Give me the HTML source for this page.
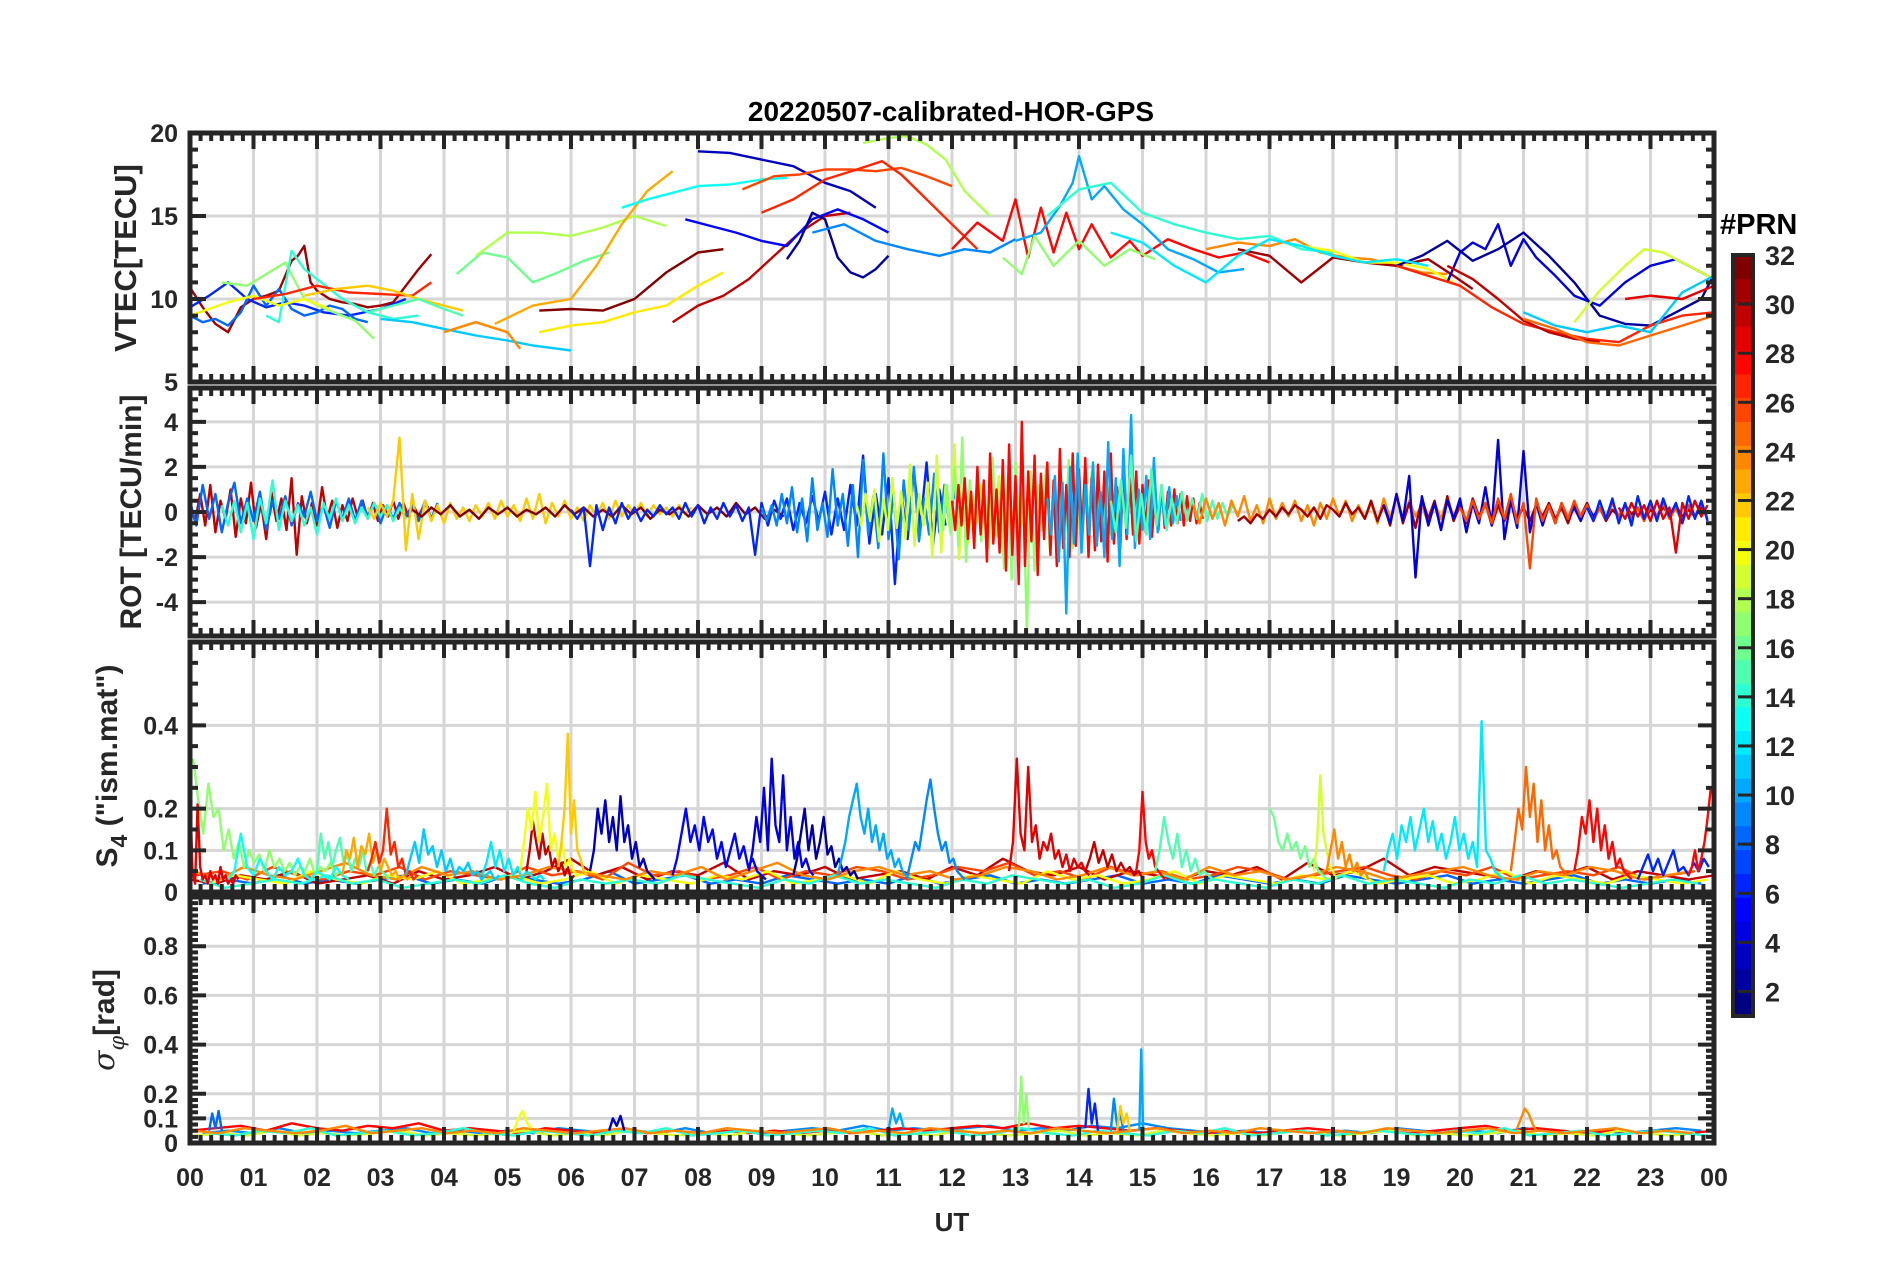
<!DOCTYPE html>
<html><head><meta charset="utf-8"><title>20220507-calibrated-HOR-GPS</title>
<style>
html,body{margin:0;padding:0;background:#fff;}
svg{display:block;font-family:"Liberation Sans",Arial,sans-serif;font-weight:bold;}
</style></head>
<body>
<svg id="chart" width="1902" height="1272" viewBox="0 0 1902 1272" xmlns="http://www.w3.org/2000/svg">
<text x="951" y="121" text-anchor="middle" font-size="28" fill="#000">20220507-calibrated-HOR-GPS</text>
<g id="grids"></g>
<g id="series"></g>
<g id="frames"></g>
<g id="labels"></g>
<text x="952" y="1231" text-anchor="middle" font-size="26" fill="#262626">UT</text>
<text transform="translate(136,258) rotate(-90)" text-anchor="middle" font-size="31" fill="#262626">VTEC[TECU]</text>
<text transform="translate(141,512) rotate(-90)" text-anchor="middle" font-size="30" fill="#262626">ROT [TECU/min]</text>
<text transform="translate(117,766) rotate(-90)" text-anchor="middle" font-size="30" fill="#262626">S<tspan font-size="23" dy="10">4</tspan><tspan dy="-10"> ("ism.mat")</tspan></text>
<text transform="translate(114,1020) rotate(-90)" text-anchor="middle" font-size="30" fill="#262626"><tspan font-family="'DejaVu Serif',serif" font-style="italic" font-weight="normal">σ</tspan><tspan font-size="21" dy="10" font-family="'DejaVu Serif',serif" font-style="italic" font-weight="normal">φ</tspan><tspan dy="-10">[rad]</tspan></text>
<g id="colorbar"></g>
<text x="1720" y="234" font-size="29" fill="#000">#PRN</text>
</svg>
<script>
// ---------- data ----------
const hourTicks = ["00","01","02","03","04","05","06","07","08","09","10","11","12","13","14","15","16","17","18","19","20","21","22","23","00"];
const vtecTickValues = [5,10,15,20];
const rotTickValues = [-4,-2,0,2,4];
const s4TickValues = [0,0.1,0.2,0.4];
const sigTickValues = [0,0.1,0.2,0.4,0.6,0.8];
const cbTickValues = [2,4,6,8,10,12,14,16,18,20,22,24,26,28,30,32];

const vtecPrn = [31,6,8,17,14,20,27,22,11,15,16,18,23,21,24,13,30,32,3,26,27,18,5,2,9,28,10,14,17,24,31,20,4,2,27,30,19,11,25,29,12];
const vtecTimes = [
[0,0.2,0.4,0.6,0.8,1.0,1.2,1.4,1.6,1.7,1.8,1.9,2.0,2.2,2.4,2.6,2.8,3.0,3.2,3.4,3.6,3.8],
[0,0.3,0.6,0.9,1.2,1.5,1.8,2.1,2.5,3.0,3.4],
[0,0.2,0.4,0.6,0.8,1.0,1.2,1.4,1.6,1.8,2.0,2.2,2.4,2.6,2.8],
[0.5,0.9,1.2,1.5,1.8,2.2,2.6,2.9],
[1.2,1.4,1.6,1.8,2.0,2.4,2.8,3.2,3.6],
[0,0.6,1.0,1.4,1.8,2.2],
[1.0,1.5,2.0,2.5,3.0,3.5,3.8],
[1.8,2.3,2.8,3.2,3.6,4.0,4.3],
[3.0,3.5,4.0,4.5,5.0,5.4,5.8,6.0],
[2.8,3.2,3.6,4.0,4.3],
[4.2,4.6,5.0,5.4,5.8,6.2,6.6],
[4.5,5.0,5.5,6.0,6.5,7.0,7.5],
[4.8,5.4,6.0,6.4,6.8,7.2,7.6],
[5.5,6.0,6.5,7.0,7.5,8.0,8.4],
[4.0,4.5,5.0,5.2],
[6.8,7.2,7.6,8.0,8.5,9.0,9.4],
[7.6,8.0,8.4,8.8,9.2,9.6,10.0,10.4],
[5.5,6.0,6.5,7.0,7.5,8.0,8.4],
[8.0,8.5,9.0,9.5,10.0,10.4,10.8],
[8.7,9.2,9.6,10.0,10.4,10.8,11.2,11.6,12.0],
[9.0,9.5,10.0,10.5,10.9,11.2,11.6,12.0,12.4],
[10.6,11.0,11.3,11.6,11.9,12.2,12.6],
[7.8,8.2,8.6,9.0,9.4,9.8,10.2,10.6,11.0],
[9.4,9.6,9.8,10.0,10.2,10.4,10.6,10.8,11.0],
[9.8,10.3,10.8,11.3,11.8,12.2,12.6,13.0],
[12.0,12.4,12.8,13.0,13.2,13.4,13.6,13.8,14.0,14.2,14.5,14.8,15.0,15.4,15.8,16.2,16.6,17.0],
[13.0,13.4,13.7,13.9,14.0,14.2,14.4,14.7,15.0,15.4,15.8,16.2,16.6],
[13.5,14.0,14.5,15.0,15.5,16.0,16.5,17.0,17.5,18.0],
[12.8,13.1,13.3,13.6,14.0,14.4,14.8,15.2],
[16.0,16.5,17.0,17.4,17.8,18.2,18.6,19.0,19.4,19.8],
[16.5,17.0,17.5,18.0,18.5,19.0,19.5,19.9,20.2],
[17.5,18.0,18.5,19.0,19.5,19.9],
[19.8,20.0,20.2,20.4,20.6,20.8,21.0,21.2,21.5,21.8,22.2,22.6,23.0,23.4,23.8,24.0],
[19.0,19.4,19.8,20.2,20.6,21.0,21.4,21.8,22.2,22.6,23.0,23.4,23.8,24.0],
[19.0,19.5,20.0,20.5,21.0,21.5,22.0,22.5,23.0,23.5,24.0],
[19.8,20.2,20.6,21.0,21.4,21.8,22.2],
[21.8,22.2,22.6,22.9,23.2,23.6,24.0],
[21.0,21.5,22.0,22.5,23.0,23.5,24.0],
[21.0,21.5,22.0,22.5,23.0,23.5,24.0],
[22.6,23.0,23.5,24.0],
[14.5,15.0,15.5,16.0,16.5,17.0,17.5,18.0,18.5,19.0,19.5]
];
const vtecValues = [
[10.7,9.5,8.5,8.0,9.5,10.0,10.2,10.5,12.3,12.6,13.2,11.0,10.5,10.0,9.8,9.7,9.5,9.6,9.8,10.8,11.8,12.7],
[9.5,10.2,11.0,10.0,9.5,9.8,9.6,9.2,9.0,9.4,10.0],
[9.0,8.6,8.8,8.4,9.2,10.8,9.6,10.6,9.4,9.0,9.2,9.6,9.4,8.8,8.6],
[11.0,10.8,11.5,12.2,10.0,9.3,8.7,7.6],
[9.0,8.6,12.9,11.8,11.2,10.0,9.2,8.8,9.0],
[9.0,9.8,10.2,9.6,10.0,9.4],
[10.0,10.3,10.8,10.4,10.3,10.2,11.0],
[10.2,10.6,10.8,10.5,10.0,9.6,9.3],
[8.8,8.6,8.2,7.8,7.5,7.2,7.0,6.9],
[9.2,9.6,10.0,9.4,9.0],
[11.5,12.8,12.5,11.0,11.6,12.3,12.8],
[12.6,14.0,14.0,13.8,14.3,15.0,14.4],
[8.5,9.6,10.0,12.0,14.5,16.5,17.7],
[8.0,8.4,8.6,9.2,9.6,10.8,11.6],
[8.0,8.6,8.0,7.0],
[15.5,16.0,16.4,16.8,16.9,17.2,17.3],
[8.6,9.6,10.2,11.2,12.6,14.0,15.0,15.2],
[9.3,9.4,9.3,10.0,11.6,12.8,13.0],
[18.9,18.8,18.4,18.0,17.0,16.5,15.5],
[16.6,17.4,17.5,17.8,17.8,17.7,17.9,17.4,16.8],
[15.2,16.0,17.2,17.8,18.3,17.5,16.0,14.5,13.0],
[19.4,19.7,19.8,19.3,18.4,16.5,15.0],
[14.8,14.4,14.0,13.5,13.2,14.8,15.4,14.8,14.0],
[12.4,13.5,15.2,14.8,12.5,11.6,11.3,11.8,12.6],
[14.0,14.5,13.5,13.0,12.6,13.0,12.8,13.6],
[13.0,14.6,13.5,16.0,12.5,15.5,12.8,15.2,13.0,14.5,12.5,13.5,12.6,13.6,13.0,12.5,12.8,12.2],
[13.5,14.0,15.6,17.0,18.6,16.0,16.8,15.4,14.5,13.0,12.4,11.6,11.8],
[15.0,16.6,17.0,15.2,14.5,14.0,13.6,13.8,13.0,12.8],
[12.5,11.5,13.8,12.0,13.5,12.0,13.0,12.4],
[13.0,13.4,13.2,13.6,12.8,12.5,12.4,12.0,11.6,11.5],
[13.0,12.6,11.0,12.5,12.2,12.0,12.4,11.4,10.6],
[13.2,12.9,12.2,12.2,11.8,11.0],
[11.0,12.8,13.4,13.0,14.5,12.0,13.6,12.5,11.4,10.2,9.6,11.0,12.0,12.4,11.6,11.2],
[12.0,12.6,13.5,12.3,13.0,14.0,12.6,11.0,9.0,8.5,8.4,9.2,10.0,11.5],
[12.0,11.4,10.8,9.5,8.5,8.0,7.6,7.4,8.4,9.0,9.2],
[12.0,11.2,10.0,8.7,8.0,7.6,7.4],
[8.6,10.5,12.0,13.0,12.8,12.0,11.2],
[9.2,8.4,8.0,8.4,8.0,10.4,11.4],
[8.8,8.2,7.4,7.2,7.8,8.4,9.0],
[10.0,10.2,10.0,10.8],
[14.0,13.4,12.0,11.0,12.6,13.6,13.2,12.6,12.2,12.4,12.0]
];

const rotPrn = [30,8,14,22,32,6,9,19,17,28,10,15,24,31,4,26,6,29];
const rotStart = [0,0,0.5,2.8,3.5,6.0,9.0,10.5,11.8,12.0,13.5,14.5,15.8,16.5,18.8,20.0,22.0,22.5];
const rotStep = [0.08,0.1,0.1,0.1,0.15,0.1,0.08,0.07,0.06,0.05,0.06,0.08,0.1,0.1,0.1,0.1,0.1,0.1];
const rotValues = [
[0.3,-0.4,0.8,-0.6,1.2,-0.9,0.5,-0.3,1.0,-1.1,0.6,-0.5,1.3,-0.7,0.4,-1.2,0.9,-0.4,0.6,-0.8,1.5,-1.9,0.7,-0.5,0.4,-0.6,1.1,-0.3,0.5,-0.7,0.3,-0.4,0.6,-0.2,0.5,-0.3,0.4,-0.4,0.3,-0.2,0.5,-0.3,0.4,-0.2,0.3,-0.2,0.3,0.2],
[0.5,-0.6,1.2,-0.3,0.8,-0.9,0.4,1.3,-0.5,0.6,-0.4,0.9,-0.8,0.5,-0.3,0.7,-0.6,0.4,-0.2,0.9,-0.4,0.3,-0.7,0.5,-0.3,0.6,-0.4,0.5,-0.2,0.4,-0.5,0.3,-0.3,0.4,-0.2,0.3,-0.4,0.5,-0.3,0.4],
[0.3,-0.6,0.5,-0.9,0.4,-1.2,0.6,-0.5,1.4,-0.8,0.5,-0.4,0.3,-0.6,0.2,-1.0,0.4,-0.3,0.6,-0.4,0.3,-0.5,0.2,-0.3,0.4,-0.2,0.3,-0.4,0.2,-0.3],
[0.2,-0.3,0.4,-0.2,0.5,3.3,-1.7,0.8,-1.2,0.5,-0.4,0.3,-0.5,0.4,-0.3,0.2,-0.4,0.3,-0.2,0.4,-0.3,0.5,-0.2,0.3,-0.4,0.6,-0.3,0.8,-0.5,0.4,-0.2,0.5,-0.3,0.2,-0.4,0.3,-0.2,0.4,-0.3,0.5,-0.2,0.3,-0.1,0.4,-0.2,0.3,-0.1,0.2,-0.2,0.3,-0.1,0.2],
[0.1,-0.2,0.2,-0.1,0.3,-0.2,0.1,-0.3,0.2,-0.1,0.2,-0.2,0.1,-0.1,0.2,-0.2,0.3,-0.1,0.2,-0.2,0.1,-0.2,0.3,-0.1,0.2,-0.3,0.1,-0.1,0.2,-0.2,0.3,-0.1,0.2,-0.2,0.4,-0.1,0.2,-0.3,0.1,-0.2],
[0.1,-0.3,0.2,-2.4,0.3,-0.8,0.2,-0.5,0.4,-0.3,0.2,-0.4,0.1,-0.2,0.3,-0.1,0.2,-0.3,0.4,-0.2,0.3,-0.5,0.2,-0.3,0.4,-0.2,0.3,-0.4,0.2,-1.9,0.4,-0.6,0.5,-0.3,0.6,-0.8,0.4,-0.5,0.7,-0.4,0.9,-1.0,0.6,-0.8,1.2,-0.6,2.5,-1.4,0.8,-1.0,1.5,-3.2,0.9,-1.2,1.8,-0.7,2.2,-1.5,1.0,-0.6],
[0.2,-0.4,0.3,-0.6,0.8,-0.5,1.1,-0.9,0.6,-1.3,1.5,-0.8,0.4,-1.1,1.9,-0.6,0.8,-1.5,1.2,-2.0,2.3,-1.0,0.7,-1.6,2.6,-1.2,0.9,-2.1,1.4,-0.8,2.0,-1.3,0.6,-1.0,1.7,-0.9,1.2,-0.6,1.0,-0.4],
[0.3,-0.6,0.8,-0.4,1.0,-1.3,0.6,-0.8,1.5,-0.7,0.9,-1.2,2.1,-1.5,0.8,-0.6,1.3,-2.0,2.5,-1.8,1.2,-0.9,3.0,-2.1,1.0,-1.4,0.7,-0.5,1.2,-0.8,0.9,-0.6,1.6,-1.1,0.7,-0.4,0.9,-0.6,0.5,-0.3],
[0.4,-0.8,1.2,-1.0,2.0,-1.5,3.3,-2.2,1.4,-0.9,1.8,-1.3,0.7,-1.6,2.4,-1.1,0.9,-2.5,1.6,-3.0,2.2,-1.4,1.0,-5.3,1.8,-2.6,1.2,-0.8,2.0,-1.7,1.1,-0.9,1.5,-1.2,2.3,-1.6,0.8,-1.0,1.3,-0.7,1.8,-1.4,0.9,-0.6,1.2,-1.0,0.7,-0.5,0.9,-0.7,0.6,-0.4,0.5,-0.3,0.4],
[0.5,-0.8,1.2,-0.6,1.5,-1.2,0.9,-1.6,2.0,-1.0,1.4,-2.2,2.6,-1.4,1.0,-1.8,2.3,-2.6,3.0,-1.9,1.6,-3.2,4.0,-2.4,1.8,-1.3,2.5,-2.8,1.7,-1.2,2.2,-1.9,1.4,-2.4,2.8,-1.6,1.2,-2.0,2.6,-1.5,1.9,-1.1,2.4,-2.0,1.5,-1.7,2.1,-1.3,1.8,-2.2,2.6,-1.4,1.1,-1.6,2.0,-1.2,1.5,-1.0,1.8,-1.4,1.2,-0.9,1.4,-1.1,1.0,-0.8,1.2,-0.7,0.9,-0.6,1.0,-0.5,0.8,-0.6,0.7,-0.4,0.6,-0.5,0.4,-0.3],
[0.6,-1.0,1.6,-2.2,1.3,-4.5,2.0,-1.4,2.6,-1.8,1.2,-1.0,2.2,-1.5,0.9,-2.0,3.1,-1.2,1.5,-2.4,2.8,-1.0,4.3,-1.6,1.0,-0.8,1.6,-1.2,2.4,-0.9,0.8,-0.6,1.1,-0.5,0.7,-0.4],
[0.5,-0.9,1.4,-0.7,2.5,-1.3,0.8,-1.0,1.9,-0.6,1.2,-0.8,0.6,-0.5,0.9,-0.4,0.6,-0.3,0.8,-0.4,0.5,-0.3,0.4,-0.2,0.3],
[0.3,-0.5,0.6,-0.3,0.4,-0.6,0.5,-0.2,0.7,-0.4,0.3,-0.5,0.6,-0.3,0.4,-0.2,0.5,-0.4,0.3,-0.6,0.4,-0.3,0.6,-0.2,0.5,-0.4,0.3,-0.3,0.4,-0.5,0.6,-0.3,0.7,-0.4,0.5,-0.2,0.3,-0.5,0.4,-0.3,0.6,-0.2,0.4,-0.4,0.5,-0.3,0.3,-0.2,0.4,-0.3],
[-0.4,-0.2,-0.5,-0.1,-0.3,0.1,-0.2,0.2,-0.1,0.3,0.1,-0.2,0.2,-0.3,0.3,0.1,-0.2,0.4,-0.1,0.2,-0.3,0.5,-0.4,0.3,-0.6,0.8,-0.5,0.4,-0.7,0.6,-0.3,0.5,-0.8,0.7,-0.4,0.3,-0.5,0.6,-0.2,0.4,-0.6,0.3,-0.4,0.5,-0.3,0.2,-0.4,0.3,-0.2,0.4,-0.3,0.2,-0.5,0.3,-0.2,0.4,-0.3,0.2,-0.4,0.1,-0.2,0.3,-0.1,0.2,-0.3,0.1,-0.2,0.2,-0.1,0.3,-0.2,0.1,-0.2,0.2,-0.1],
[0.3,-0.5,0.8,-0.4,1.6,-2.9,0.7,-0.6,0.4,-0.8,0.5,-0.3,0.6,-0.9,0.4,-0.5,1.1,-0.6,3.2,-1.2,0.5,-0.7,2.7,-0.9,0.4,-0.6,0.3,-0.5,0.4,-0.3,0.2,-0.4,0.3,-0.2,0.2],
[0.2,-0.4,0.5,-0.3,0.4,-0.5,0.6,-0.3,0.8,-0.5,0.4,-2.5,0.6,-0.4,0.3,-0.5,0.4,-0.3,0.5,-0.2,0.3,-0.4,0.2,-0.3,0.4,-0.2,0.3,-0.3,0.2,-0.4,0.3,-0.2,0.4,-0.3,0.2,-0.5,0.3,-0.2,0.4,-0.3],
[0.2,-0.4,0.5,-0.3,0.6,-0.5,0.4,-0.6,0.7,-0.3,0.5,-0.4,0.6,-0.2,0.4,-0.5,0.7,-0.3,0.5,-0.4],
[0.2,-0.3,0.4,-0.2,0.3,-0.4,0.5,-0.3,0.2,-1.8,0.4,-0.3,0.5,-0.2,0.3]
];

const s4Prn = [8,30,26,20,14,24,17,29,13,15,23,27,11,12,30,20,22,3,5,4,2,10,9,29,30,28,15,16,19,24,12,25,28,6,28];
const s4Start = [0.2,0,0.1,0.3,0.15,0.05,0.05,0,0.6,2.0,2.4,2.8,3.4,4.6,5.3,5.2,5.8,6.3,7.6,8.8,9.5,10.2,11.3,12.9,14.1,14.9,15.2,17.0,17.7,17.9,18.8,20.8,21.8,22.8,23.6];
const s4Step = [0.4,0.4,0.4,0.4,0.4,0.4,0.08,0.04,0.1,0.06,0.06,0.06,0.07,0.07,0.05,0.06,0.05,0.06,0.07,0.06,0.06,0.06,0.06,0.06,0.07,0.05,0.07,0.07,0.05,0.06,0.07,0.06,0.06,0.08,0.05];
const s4Values = [
[0.02,0.03,0.02,0.04,0.02,0.03,0.02,0.03,0.04,0.02,0.03,0.02,0.04,0.03,0.02,0.03,0.05,0.02,0.03,0.04,0.02,0.03,0.02,0.04,0.03,0.02,0.03,0.02,0.04,0.02,0.03,0.04,0.02,0.03,0.02,0.03,0.04,0.02,0.03,0.02,0.04,0.03,0.02,0.03,0.02,0.04,0.03,0.02,0.03,0.04,0.02,0.03,0.02,0.03,0.04,0.02,0.03,0.02,0.03,0.02],
[0.03,0.02,0.04,0.03,0.05,0.02,0.03,0.04,0.02,0.05,0.03,0.04,0.06,0.03,0.05,0.08,0.04,0.06,0.03,0.05,0.04,0.07,0.03,0.05,0.04,0.06,0.03,0.04,0.05,0.03,0.06,0.04,0.08,0.05,0.04,0.06,0.03,0.05,0.04,0.03,0.05,0.04,0.06,0.03,0.07,0.04,0.05,0.08,0.04,0.06,0.05,0.04,0.03,0.05,0.04,0.06,0.03,0.05,0.04,0.03,0.04],
[0.04,0.05,0.03,0.06,0.04,0.03,0.05,0.04,0.06,0.03,0.05,0.04,0.03,0.06,0.04,0.05,0.03,0.07,0.04,0.05,0.03,0.04,0.06,0.03,0.05,0.04,0.06,0.05,0.03,0.04,0.06,0.05,0.07,0.04,0.05,0.03,0.06,0.04,0.05,0.03,0.04,0.06,0.05,0.03,0.04,0.05,0.06,0.04,0.03,0.05,0.04,0.06,0.03,0.04,0.05,0.04,0.06,0.03,0.04,0.05],
[0.02,0.04,0.03,0.02,0.05,0.03,0.02,0.04,0.03,0.05,0.02,0.03,0.04,0.02,0.03,0.05,0.02,0.04,0.03,0.02,0.04,0.03,0.05,0.02,0.03,0.04,0.02,0.05,0.03,0.02,0.04,0.03,0.02,0.05,0.03,0.04,0.02,0.03,0.05,0.02,0.04,0.03,0.02,0.04,0.03,0.05,0.02,0.03,0.04,0.02,0.03,0.05,0.02,0.04,0.03,0.02,0.04,0.03,0.02,0.03],
[0.03,0.01,0.02,0.03,0.02,0.04,0.02,0.03,0.01,0.02,0.03,0.02,0.04,0.02,0.01,0.03,0.02,0.03,0.02,0.04,0.03,0.02,0.01,0.03,0.02,0.04,0.02,0.03,0.02,0.01,0.03,0.02,0.04,0.03,0.02,0.03,0.01,0.02,0.04,0.02,0.03,0.02,0.01,0.03,0.02,0.04,0.02,0.03,0.02,0.01,0.03,0.02,0.04,0.02,0.03,0.02,0.01,0.02,0.03,0.02],
[0.05,0.03,0.06,0.04,0.03,0.05,0.07,0.04,0.03,0.06,0.04,0.05,0.03,0.04,0.06,0.05,0.04,0.03,0.05,0.04,0.06,0.03,0.05,0.07,0.04,0.03,0.05,0.06,0.04,0.05,0.03,0.04,0.06,0.05,0.03,0.04,0.06,0.04,0.05,0.03,0.06,0.04,0.05,0.03,0.04,0.06,0.05,0.03,0.04,0.05,0.06,0.04,0.03,0.05,0.04,0.06,0.05,0.03,0.04,0.05],
[0.32,0.22,0.14,0.26,0.18,0.2,0.1,0.15,0.08,0.12,0.06,0.1,0.07,0.09,0.05,0.1,0.06,0.08,0.05,0.07,0.04,0.06,0.05,0.08,0.04,0.06,0.05,0.07,0.04,0.05],
[0.25,0.05,0.02,0.21,0.06,0.03,0.04,0.02,0.05,0.03,0.04,0.02,0.06,0.03,0.04,0.02,0.03,0.02,0.04,0.03],
[0.03,0.05,0.14,0.06,0.04,0.08,0.05,0.03,0.06,0.04,0.05,0.08,0.04,0.03,0.05,0.04,0.03,0.06,0.04,0.03],
[0.05,0.14,0.08,0.12,0.06,0.1,0.13,0.07,0.09,0.05,0.08,0.06,0.1,0.05,0.07,0.04,0.06,0.05,0.04,0.03],
[0.04,0.1,0.08,0.13,0.06,0.11,0.09,0.14,0.07,0.1,0.05,0.08,0.06,0.04,0.05,0.03,0.04,0.03,0.04,0.03],
[0.05,0.08,0.12,0.07,0.1,0.2,0.09,0.12,0.06,0.08,0.04,0.05,0.03,0.04],
[0.04,0.08,0.12,0.07,0.15,0.09,0.11,0.06,0.1,0.05,0.08,0.04,0.06,0.05,0.07,0.04,0.05,0.03,0.04,0.05,0.03,0.04],
[0.04,0.07,0.12,0.06,0.1,0.05,0.08,0.04,0.06,0.03,0.05,0.04,0.03,0.04,0.03],
[0.05,0.1,0.17,0.12,0.08,0.14,0.09,0.11,0.06,0.08,0.05,0.07,0.04,0.06,0.03,0.04],
[0.05,0.12,0.2,0.15,0.24,0.12,0.18,0.26,0.1,0.14,0.08,0.12,0.06,0.08,0.05,0.04],
[0.06,0.12,0.2,0.38,0.14,0.22,0.1,0.08,0.05,0.04],
[0.05,0.1,0.2,0.14,0.22,0.12,0.18,0.1,0.23,0.12,0.16,0.08,0.12,0.06,0.08,0.05,0.04,0.03],
[0.04,0.08,0.14,0.2,0.12,0.16,0.1,0.18,0.12,0.15,0.08,0.12,0.06,0.1,0.14,0.08,0.11,0.06,0.08,0.05,0.04,0.03],
[0.05,0.1,0.18,0.12,0.25,0.1,0.32,0.16,0.12,0.28,0.1,0.18,0.08,0.12,0.06,0.08,0.05,0.04],
[0.04,0.08,0.14,0.2,0.1,0.16,0.08,0.12,0.18,0.09,0.11,0.06,0.08,0.05,0.06,0.04,0.05,0.03],
[0.04,0.08,0.12,0.18,0.22,0.26,0.18,0.14,0.2,0.12,0.16,0.1,0.14,0.08,0.1,0.06,0.08,0.05,0.04,0.03],
[0.04,0.08,0.12,0.1,0.16,0.22,0.27,0.2,0.14,0.1,0.12,0.07,0.08,0.05,0.04,0.03],
[0.05,0.12,0.32,0.14,0.1,0.3,0.12,0.16,0.08,0.12,0.1,0.14,0.08,0.1,0.06,0.09,0.05,0.08,0.06,0.07,0.05,0.04],
[0.05,0.08,0.12,0.07,0.1,0.06,0.09,0.05,0.07,0.05,0.06,0.04,0.05,0.03],
[0.05,0.1,0.24,0.12,0.08,0.1,0.06,0.05,0.04,0.03],
[0.05,0.1,0.18,0.12,0.08,0.14,0.06,0.1,0.05,0.08,0.04,0.05,0.04,0.03],
[0.2,0.18,0.12,0.1,0.14,0.1,0.12,0.08,0.11,0.06,0.08,0.05,0.04,0.03],
[0.05,0.12,0.28,0.14,0.1,0.06,0.05,0.03],
[0.05,0.1,0.15,0.08,0.12,0.06,0.09,0.05,0.07,0.04,0.05,0.03],
[0.05,0.1,0.14,0.08,0.16,0.12,0.18,0.1,0.15,0.2,0.12,0.17,0.1,0.14,0.08,0.12,0.18,0.1,0.14,0.08,0.12,0.06,0.41,0.1,0.08,0.05,0.04,0.03],
[0.05,0.12,0.2,0.15,0.3,0.18,0.26,0.12,0.22,0.1,0.16,0.08,0.1,0.06,0.05,0.04],
[0.05,0.1,0.18,0.14,0.22,0.12,0.2,0.1,0.16,0.08,0.12,0.06,0.08,0.05,0.04,0.03],
[0.03,0.06,0.09,0.05,0.08,0.04,0.07,0.1,0.05,0.06,0.04,0.07,0.05,0.08,0.06],
[0.04,0.06,0.1,0.05,0.08,0.12,0.18,0.25]
];

const sigPrn = [9,28,19,14,24,8,20,3,10,17,6,9,22,10,24];
const sigStart = [0.2,0,0.1,0.3,0.05,0.3,5.1,6.6,11.0,13.05,14.1,14.5,14.6,14.95,20.9];
const sigStep = [0.4,0.4,0.4,0.4,0.4,0.05,0.07,0.06,0.06,0.04,0.05,0.05,0.05,0.03,0.06];
const sigValues = [
[0.04,0.05,0.04,0.06,0.04,0.05,0.04,0.05,0.06,0.04,0.05,0.04,0.05,0.04,0.06,0.05,0.04,0.05,0.04,0.06,0.04,0.05,0.04,0.05,0.06,0.05,0.07,0.05,0.06,0.05,0.06,0.07,0.05,0.06,0.05,0.07,0.06,0.08,0.06,0.05,0.04,0.05,0.04,0.05,0.04,0.05,0.04,0.06,0.05,0.04,0.05,0.04,0.06,0.05,0.04,0.05,0.04,0.05,0.06,0.05],
[0.05,0.06,0.07,0.05,0.08,0.06,0.05,0.07,0.06,0.08,0.05,0.06,0.05,0.04,0.06,0.05,0.04,0.05,0.04,0.05,0.04,0.05,0.04,0.05,0.04,0.05,0.04,0.05,0.06,0.05,0.06,0.07,0.06,0.08,0.06,0.07,0.06,0.05,0.06,0.05,0.04,0.05,0.04,0.05,0.06,0.05,0.04,0.05,0.04,0.05,0.06,0.07,0.05,0.06,0.05,0.04,0.05,0.04,0.05,0.04,0.05],
[0.03,0.04,0.03,0.05,0.03,0.04,0.03,0.04,0.05,0.03,0.04,0.03,0.04,0.05,0.03,0.04,0.03,0.05,0.04,0.03,0.04,0.03,0.05,0.04,0.03,0.04,0.05,0.03,0.04,0.03,0.05,0.04,0.03,0.04,0.05,0.03,0.04,0.03,0.05,0.04,0.03,0.04,0.03,0.05,0.04,0.03,0.04,0.05,0.03,0.04,0.03,0.04,0.05,0.03,0.04,0.03,0.05,0.04,0.03,0.04],
[0.04,0.03,0.05,0.04,0.06,0.03,0.04,0.05,0.03,0.04,0.06,0.04,0.03,0.05,0.04,0.03,0.05,0.04,0.06,0.03,0.04,0.05,0.03,0.04,0.05,0.04,0.06,0.03,0.04,0.05,0.03,0.04,0.06,0.04,0.03,0.05,0.04,0.03,0.05,0.04,0.06,0.03,0.04,0.05,0.03,0.04,0.05,0.04,0.03,0.05,0.04,0.06,0.03,0.04,0.05,0.03,0.04,0.05,0.04,0.03],
[0.05,0.04,0.06,0.05,0.04,0.05,0.07,0.04,0.05,0.06,0.04,0.05,0.04,0.06,0.05,0.04,0.05,0.06,0.04,0.05,0.04,0.06,0.05,0.04,0.05,0.06,0.04,0.05,0.04,0.06,0.05,0.04,0.05,0.04,0.06,0.05,0.04,0.05,0.06,0.04,0.05,0.04,0.06,0.05,0.04,0.05,0.04,0.06,0.05,0.04,0.05,0.06,0.04,0.05,0.04,0.05,0.06,0.04,0.05,0.04],
[0.05,0.12,0.06,0.13,0.05],
[0.05,0.1,0.13,0.08,0.06],
[0.05,0.1,0.07,0.11,0.05],
[0.05,0.14,0.08,0.12,0.06],
[0.05,0.27,0.08,0.2,0.06],
[0.06,0.22,0.08,0.16,0.05],
[0.05,0.18,0.07,0.12,0.05],
[0.05,0.15,0.08,0.12,0.05],
[0.05,0.38,0.06],
[0.06,0.1,0.14,0.12,0.08,0.05]
];

// ---------- layout ----------
const NS = "http://www.w3.org/2000/svg";
const X0 = 190, X1 = 1714;
const xScale = h => X0 + (h / 24) * (X1 - X0);
const panels = [
  {name:"vtec", top:133, bottom:382, min:5, max:20},
  {name:"rot", top:388, bottom:636, min:-5.5, max:5.5},
  {name:"s4", top:642, bottom:892, min:0, max:0.6},
  {name:"sigma", top:897, bottom:1143, min:0, max:1.0}
];
function yScale(p, v){ return p.bottom - (v - p.min) / (p.max - p.min) * (p.bottom - p.top); }
function jet(prn){
  const f = (prn - 1) / 31;
  const c = t => Math.round(255 * Math.max(0, Math.min(1, t)));
  return `rgb(${c(1.5 - Math.abs(4*f - 3))},${c(1.5 - Math.abs(4*f - 2))},${c(1.5 - Math.abs(4*f - 1))})`;
}
function mk(tag, attrs, parent){
  const e = document.createElementNS(NS, tag);
  for (const k in attrs) e.setAttribute(k, attrs[k]);
  parent.appendChild(e);
  return e;
}
const gGrid = document.getElementById("grids");
const gSer = document.getElementById("series");
const gFr = document.getElementById("frames");
const gLab = document.getElementById("labels");
const dark = "#262626";

const defs = mk("defs", {}, document.getElementById("chart"));
panels.forEach((p, i) => {
  const cp = mk("clipPath", {id:"clip" + i}, defs);
  mk("rect", {x:X0, y:p.top, width:X1 - X0, height:p.bottom - p.top}, cp);
});

const gridY = [[10,15],[-4,-2,0,2,4],[0.1,0.2,0.4],[0.1,0.2,0.4,0.6,0.8]];
const minorY = [1, 0.5, 0.05, 0.025];
const tickY = [vtecTickValues, rotTickValues, s4TickValues, sigTickValues];

panels.forEach((p, i) => {
  for (let h = 1; h < 24; h++) {
    const gl = mk("line", {x1:xScale(h), x2:xScale(h), y1:p.top, y2:p.bottom, stroke:"#d6d6d6", "stroke-width":3}, gGrid);
    
    
  }
  gridY[i].forEach(v => {
    const gl = mk("line", {x1:X0, x2:X1, y1:yScale(p, v), y2:yScale(p, v), stroke:"#d6d6d6", "stroke-width":3}, gGrid);
    
    
  });
  const fr = mk("rect", {x:X0, y:p.top, width:X1 - X0, height:p.bottom - p.top, fill:"none", stroke:dark, "stroke-width":5}, gFr);
  
  
  let d = "";
  for (let m = 0; m <= 24 * 6; m++) {
    const x = xScale(m / 6);
    const len = (m % 6 === 0) ? 16 : 8;
    d += `M${x},${p.top}v${len}M${x},${p.bottom}v${-len}`;
  }
  const mstep = minorY[i];
  for (let v = p.min; v <= p.max + 1e-9; v += mstep) {
    const y = yScale(p, v);
    const isMajor = tickY[i].some(t => Math.abs(t - v) < 1e-6);
    const len = isMajor ? 16 : 8;
    d += `M${X0},${y}h${len}M${X1},${y}h${-len}`;
  }
  const tk = mk("path", {d:d, stroke:dark, "stroke-width":4, fill:"none"}, gFr);
  
  
  tickY[i].forEach(v => {
    const t = mk("text", {x:178, y:yScale(p, v) + 9, "text-anchor":"end", "font-size":25, fill:dark}, gLab);
    t.textContent = String(v);
    
    
  });
});
hourTicks.forEach((lab, h) => {
  const t = mk("text", {x:xScale(h), y:1186, "text-anchor":"middle", "font-size":25, fill:dark}, gLab);
  t.textContent = lab;
  
  
});

// ---------- series ----------
function drawLine(pi, prn, pts, nm){
  const p = panels[pi];
  const d = pts.map((q, k) => (k ? "L" : "M") + xScale(q[0]).toFixed(1) + "," + yScale(p, q[1]).toFixed(1)).join("");
  const path = mk("path", {d:d, fill:"none", stroke:jet(prn), "stroke-width":2.4, "stroke-linejoin":"round", "clip-path":`url(#clip${pi})`}, gSer);
  
  
}
vtecPrn.forEach((prn, i) => {
  drawLine(0, prn, vtecTimes[i].map((t, k) => [t, vtecValues[i][k]]), 'vtec-line');
});
function drawStepSeries(pi, prns, starts, steps, vals, nm){
  prns.forEach((prn, i) => {
    drawLine(pi, prn, vals[i].map((v, k) => [starts[i] + k * steps[i], v]), nm);
  });
}
drawStepSeries(1, rotPrn, rotStart, rotStep, rotValues, 'rot-line');
drawStepSeries(2, s4Prn, s4Start, s4Step, s4Values, 's4-line');
drawStepSeries(3, sigPrn, sigStart, sigStep, sigValues, 'sigma-phi-line');

// ---------- colorbar ----------
const gCb = document.getElementById("colorbar");
const CB = {x:1733, w:20, top:255, bottom:1016, min:1, max:32};
const cbY = v => CB.bottom - (v - CB.min) / (CB.max - CB.min) * (CB.bottom - CB.top);
for (let k = 1; k <= 32; k++) {
  const y1 = CB.bottom - (k - 1) / 32 * (CB.bottom - CB.top);
  const y0 = CB.bottom - k / 32 * (CB.bottom - CB.top);
  const r = mk("rect", {x:CB.x, y:y0, width:CB.w, height:y1 - y0 + 0.5, fill:jet(k)}, gCb);
  
  
}
const cbf = mk("rect", {x:CB.x, y:CB.top, width:CB.w, height:CB.bottom - CB.top, fill:"none", stroke:dark, "stroke-width":4}, gCb);


cbTickValues.forEach(v => {
  const y = cbY(v);
  const tl = mk("line", {x1:CB.x + 5, x2:CB.x + CB.w, y1:y, y2:y, stroke:dark, "stroke-width":3}, gCb);
  
  
  const t = mk("text", {x:1765, y:y + 10, "font-size":27, fill:dark}, gCb);
  t.textContent = String(v);
  
  
});
</script>
</body></html>
